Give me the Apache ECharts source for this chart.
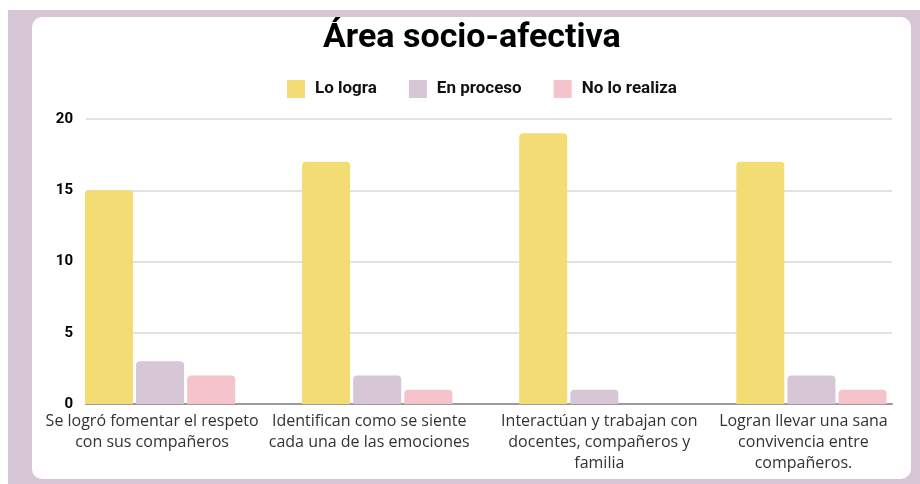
<!DOCTYPE html>
<html>
<head>
<meta charset="utf-8">
<script src="https://cdn.jsdelivr.net/npm/echarts@6/dist/echarts.min.js"></script>
<style>
  html, body { margin: 0; padding: 0; background: #ffffff; }
  #chart { width: 920px; height: 484px; }
</style>
</head>
<body>
<div id="chart"></div>
<script>
const titleText = 'Área socio-afectiva';
const categories = [
  'Se logró fomentar el respeto\ncon sus compañeros',
  'Identifican como se siente\ncada una de las emociones',
  'Interactúan y trabajan con\ndocentes, compañeros y\nfamilia',
  'Logran llevar una sana\nconvivencia entre\ncompañeros.'
];
const seriesNames = ['Lo logra', 'En proceso', 'No lo realiza'];
const loLogra = [15, 17, 19, 17];
const enProceso = [3, 2, 1, 2];
const noLoRealiza = [2, 1, 0, 1];
const yTicks = [0, 5, 10, 15, 20];

const colors = ['#f4dc74', '#d6c6d6', '#f5c3ca'];
const labelPads = [[0, 16, 0, 0], [0, 16, 0, 0], [0, 0, 0, 10], [0, 16, 0, 0]];
const chart = echarts.init(document.getElementById('chart'), null, { renderer: 'canvas' });

const valuesList = [loLogra, enProceso, noLoRealiza];
const option = {
  animation: false,
  color: colors,
  graphic: [
    { type: 'rect', z: -10, silent: true, shape: { x: 8, y: 10, width: 912, height: 474 }, style: { fill: '#d6c6d6' } },
    { type: 'rect', z: -9, silent: true, shape: { x: 32, y: 17, width: 879, height: 462, r: 10 }, style: { fill: '#ffffff' } }
  ],
  title: {
    text: titleText,
    left: 318,
    top: 16,
    textStyle: { fontFamily: 'Roboto', fontWeight: 'bold', fontSize: 34, color: '#000000' }
  },
  legend: {
    data: seriesNames,
    top: 75,
    left: 282,
    itemWidth: 18,
    itemHeight: 18,
    itemGap: 32,
    icon: 'rect',
    textStyle: { fontFamily: 'Roboto', fontWeight: 'bold', fontSize: 17, color: '#111111', padding: [0, 0, 0, 5] }
  },
  grid: [
    { left: 86, width: 806, top: 119, height: 285, containLabel: false },
    { left: 51.5, width: 875, top: 119, height: 285, containLabel: false }
  ],
  xAxis: [
    { type: 'category', gridIndex: 0, data: categories,
      axisLine: { show: true, lineStyle: { color: '#9a9a9a', width: 2 } },
      axisTick: { show: false }, axisLabel: { show: false }, splitLine: { show: false } },
    { type: 'category', gridIndex: 1,
      data: categories.map((c, i) => ({ value: c, textStyle: { padding: labelPads[i] } })),
      axisLine: { show: false }, axisTick: { show: false },
      axisLabel: { show: true, interval: 0, margin: 7, color: '#333333', fontFamily: 'Open Sans', fontSize: 16, lineHeight: 21 } }
  ],
  yAxis: [
    { type: 'value', gridIndex: 0, min: yTicks[0], max: yTicks[yTicks.length - 1], interval: 5,
      axisLine: { show: false }, axisTick: { show: false },
      axisLabel: { margin: 13, color: '#000000', fontFamily: 'Roboto', fontWeight: 'bold', fontSize: 15 },
      splitLine: { show: true, lineStyle: { color: '#d9d9d9', width: 1.5 } } },
    { type: 'value', gridIndex: 1, min: yTicks[0], max: yTicks[yTicks.length - 1], interval: 5, show: false,
      splitLine: { show: false } }
  ],
  series: seriesNames.map((name, i) => ({
    name: name,
    type: 'bar',
    xAxisIndex: 1,
    yAxisIndex: 1,
    data: valuesList[i],
    barWidth: 48,
    barGap: '6.5%',
    itemStyle: { color: colors[i], borderRadius: [4, 4, 0, 0] },
    z: 3
  }))
};
chart.setOption(option);
</script>
</body>
</html>
